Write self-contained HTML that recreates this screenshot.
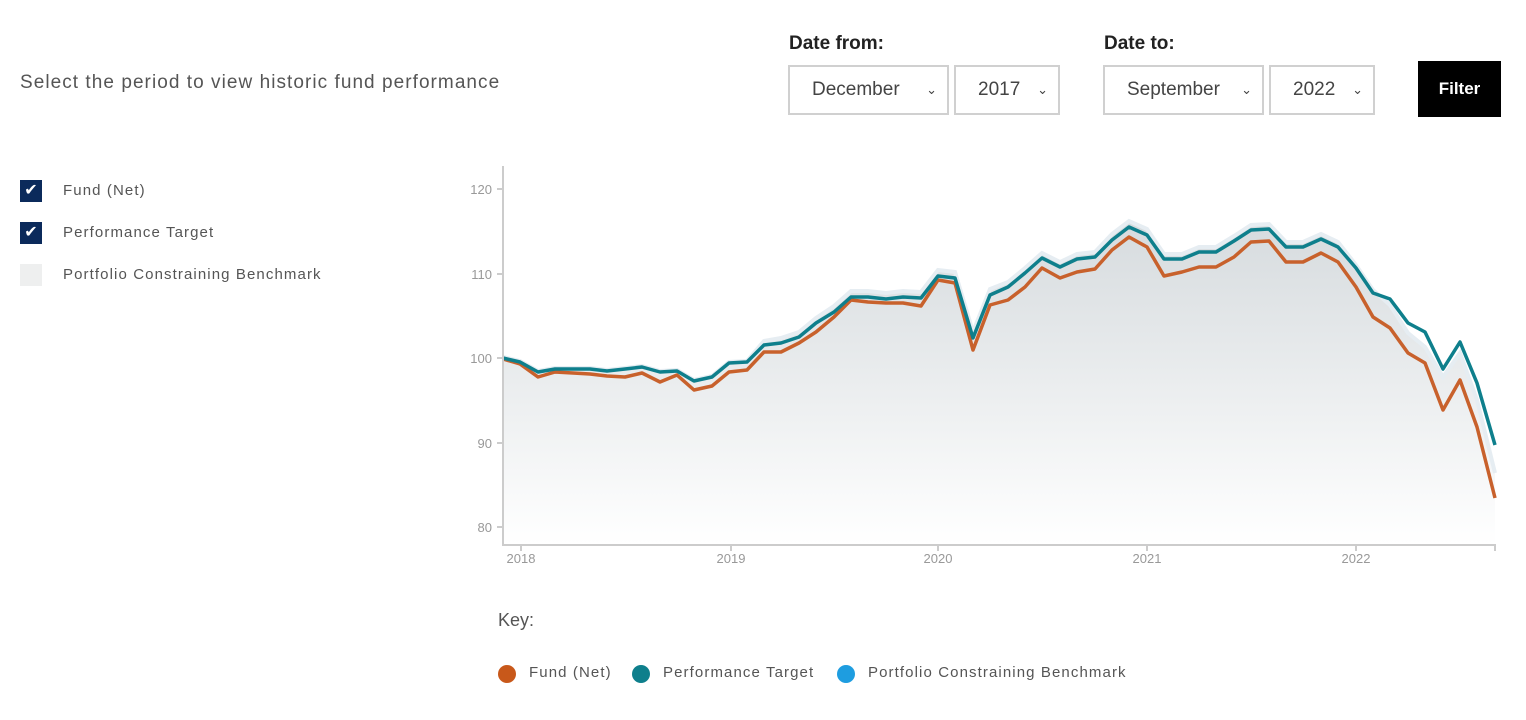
<!DOCTYPE html>
<html><head><meta charset="utf-8"><style>
body{margin:0;width:1526px;height:720px;background:#fff;font-family:"Liberation Sans",sans-serif;position:relative;overflow:hidden;color:#555}
.a{position:absolute;white-space:nowrap}
.sel{position:absolute;top:65px;height:50px;border:2px solid #d0d0d0;box-sizing:border-box;font-size:19px;color:#444;line-height:46px}
.sel span{position:absolute;right:10px;top:0;font-size:13px}
.cb{position:absolute;left:20px;width:22px;height:22px;background:#0b2a5b;color:#fff;font-size:16px;line-height:22px;text-align:center}
.ls{letter-spacing:1.1px}
</style></head><body>
<div class="a" style="left:20px;top:72px;font-size:19px;color:#555;letter-spacing:1.05px">Select the period to view historic fund performance</div>
<div class="a" style="left:789px;top:33px;font-size:19px;color:#222;font-weight:bold">Date from:</div>
<div class="a" style="left:1104px;top:33px;font-size:19px;color:#222;font-weight:bold">Date to:</div>
<div class="sel" style="left:788px;width:161px;padding-left:22px">December<span>&#8964;</span></div>
<div class="sel" style="left:954px;width:106px;padding-left:22px">2017<span>&#8964;</span></div>
<div class="sel" style="left:1103px;width:161px;padding-left:22px">September<span>&#8964;</span></div>
<div class="sel" style="left:1269px;width:106px;padding-left:22px">2022<span>&#8964;</span></div>
<div class="a" style="left:1418px;top:61px;width:83px;height:56px;background:#000;color:#fff;font-weight:bold;font-size:17px;line-height:56px;text-align:center">Filter</div>
<div class="cb" style="top:180px">&#10004;</div>
<div class="cb" style="top:222px">&#10004;</div>
<div class="cb" style="top:264px;background:#eeefef"></div>
<div class="a ls" style="left:63px;top:182px;font-size:15px">Fund (Net)</div>
<div class="a ls" style="left:63px;top:224px;font-size:15px">Performance Target</div>
<div class="a ls" style="left:63px;top:266px;font-size:15px">Portfolio Constraining Benchmark</div>
<svg class="a" style="left:0;top:0" width="1526" height="720">
<defs><linearGradient id="g" x1="0" y1="0" x2="0" y2="1"><stop offset="0" stop-color="#d6dbde"/><stop offset="1" stop-color="#ffffff"/></linearGradient></defs>
<g font-size="13" fill="#999" text-anchor="end" font-family="Liberation Sans">
<text x="492" y="194">120</text><text x="492" y="279">110</text><text x="492" y="363">100</text><text x="492" y="448">90</text><text x="492" y="532">80</text></g>
<g font-size="13" fill="#999" text-anchor="middle" font-family="Liberation Sans">
<text x="521" y="563">2018</text><text x="731" y="563">2019</text><text x="938" y="563">2020</text><text x="1147" y="563">2021</text><text x="1356" y="563">2022</text></g>
<polygon fill="url(#g)" points="503,545 503,357 520,361 538,371 555,368 573,368 590,368 607,370 625,368 642,366 660,371 677,370 694,380 712,376 729,362 747,361 764,341 781,338 799,332 816,318 834,306 851,291 868,291 886,293 903,291 921,292 938,270 955,272 973,332 990,289 1008,282 1025,268 1042,253 1060,262 1077,254 1095,252 1112,234 1129,221 1147,229 1164,254 1182,254 1199,247 1216,247 1234,236 1251,225 1269,224 1286,242 1303,242 1321,234 1338,242 1356,265 1373,290 1390,305 1408,333 1425,347 1443,377 1460,353 1477,400 1495,473 1495,545"/>
<polyline fill="none" stroke="#e6edf2" stroke-width="4" points="503,357 520,361 538,371 555,368 573,368 590,368 607,370 625,368 642,366 660,371 677,370 694,380 712,376 729,362 747,361 764,341 781,338 799,332 816,318 834,306 851,291 868,291 886,293 903,291 921,292 938,270 955,272 973,332 990,289 1008,282 1025,268 1042,253 1060,262 1077,254 1095,252 1112,234 1129,221 1147,229 1164,254 1182,254 1199,247 1216,247 1234,236 1251,225 1269,224 1286,242 1303,242 1321,234 1338,242 1356,265 1373,290 1390,305 1408,333 1425,347 1443,377 1460,353 1477,400 1495,473"/>
<polyline fill="none" stroke="#c8612c" stroke-width="3.5" stroke-linejoin="round" points="503,359 520,364 538,377 555,372 573,373 590,374 607,376 625,377 642,373 660,382 677,375 694,390 712,386 729,372 747,370 764,352 781,352 799,343 816,332 834,317 851,300 868,302 886,303 903,303 921,306 938,280 955,283 973,350 990,305 1008,300 1025,287 1042,268 1060,278 1077,272 1095,269 1112,250 1129,237 1147,247 1164,276 1182,272 1199,267 1216,267 1234,257 1251,242 1269,241 1286,262 1303,262 1321,253 1338,262 1356,287 1373,317 1390,328 1408,353 1425,363 1443,410 1460,380 1477,427 1495,498"/>
<polyline fill="none" stroke="#0e7f8c" stroke-width="3.5" stroke-linejoin="round" points="503,358 520,362 538,372 555,369 573,369 590,369 607,371 625,369 642,367 660,372 677,371 694,381 712,377 729,363 747,362 764,345 781,343 799,337 816,323 834,312 851,297 868,297 886,299 903,297 921,298 938,276 955,278 973,338 990,295 1008,287 1025,273 1042,258 1060,267 1077,259 1095,257 1112,240 1129,227 1147,235 1164,259 1182,259 1199,252 1216,252 1234,241 1251,230 1269,229 1286,247 1303,247 1321,239 1338,247 1356,268 1373,293 1390,299 1408,323 1425,332 1443,369 1460,342 1477,383 1495,445"/>
<g stroke="#ccc" stroke-width="2" fill="none">
<line x1="503" y1="166" x2="503" y2="546"/><line x1="502" y1="545" x2="1496" y2="545"/>
<line x1="497" y1="189" x2="503" y2="189"/><line x1="497" y1="274" x2="503" y2="274"/><line x1="497" y1="358" x2="503" y2="358"/><line x1="497" y1="443" x2="503" y2="443"/><line x1="497" y1="527" x2="503" y2="527"/>
<line x1="521" y1="545" x2="521" y2="551"/><line x1="731" y1="545" x2="731" y2="551"/><line x1="938" y1="545" x2="938" y2="551"/><line x1="1147" y1="545" x2="1147" y2="551"/><line x1="1356" y1="545" x2="1356" y2="551"/><line x1="1495" y1="545" x2="1495" y2="551"/>
</g>
<circle cx="507" cy="674" r="9" fill="#c8581a"/><circle cx="641" cy="674" r="9" fill="#0e7f8c"/><circle cx="846" cy="674" r="9" fill="#1e9de0"/>
</svg>
<div class="a" style="left:498px;top:610px;font-size:18px">Key:</div>
<div class="a ls" style="left:529px;top:664px;font-size:15px">Fund (Net)</div>
<div class="a ls" style="left:663px;top:664px;font-size:15px">Performance Target</div>
<div class="a ls" style="left:868px;top:664px;font-size:15px">Portfolio Constraining Benchmark</div>
</body></html>
